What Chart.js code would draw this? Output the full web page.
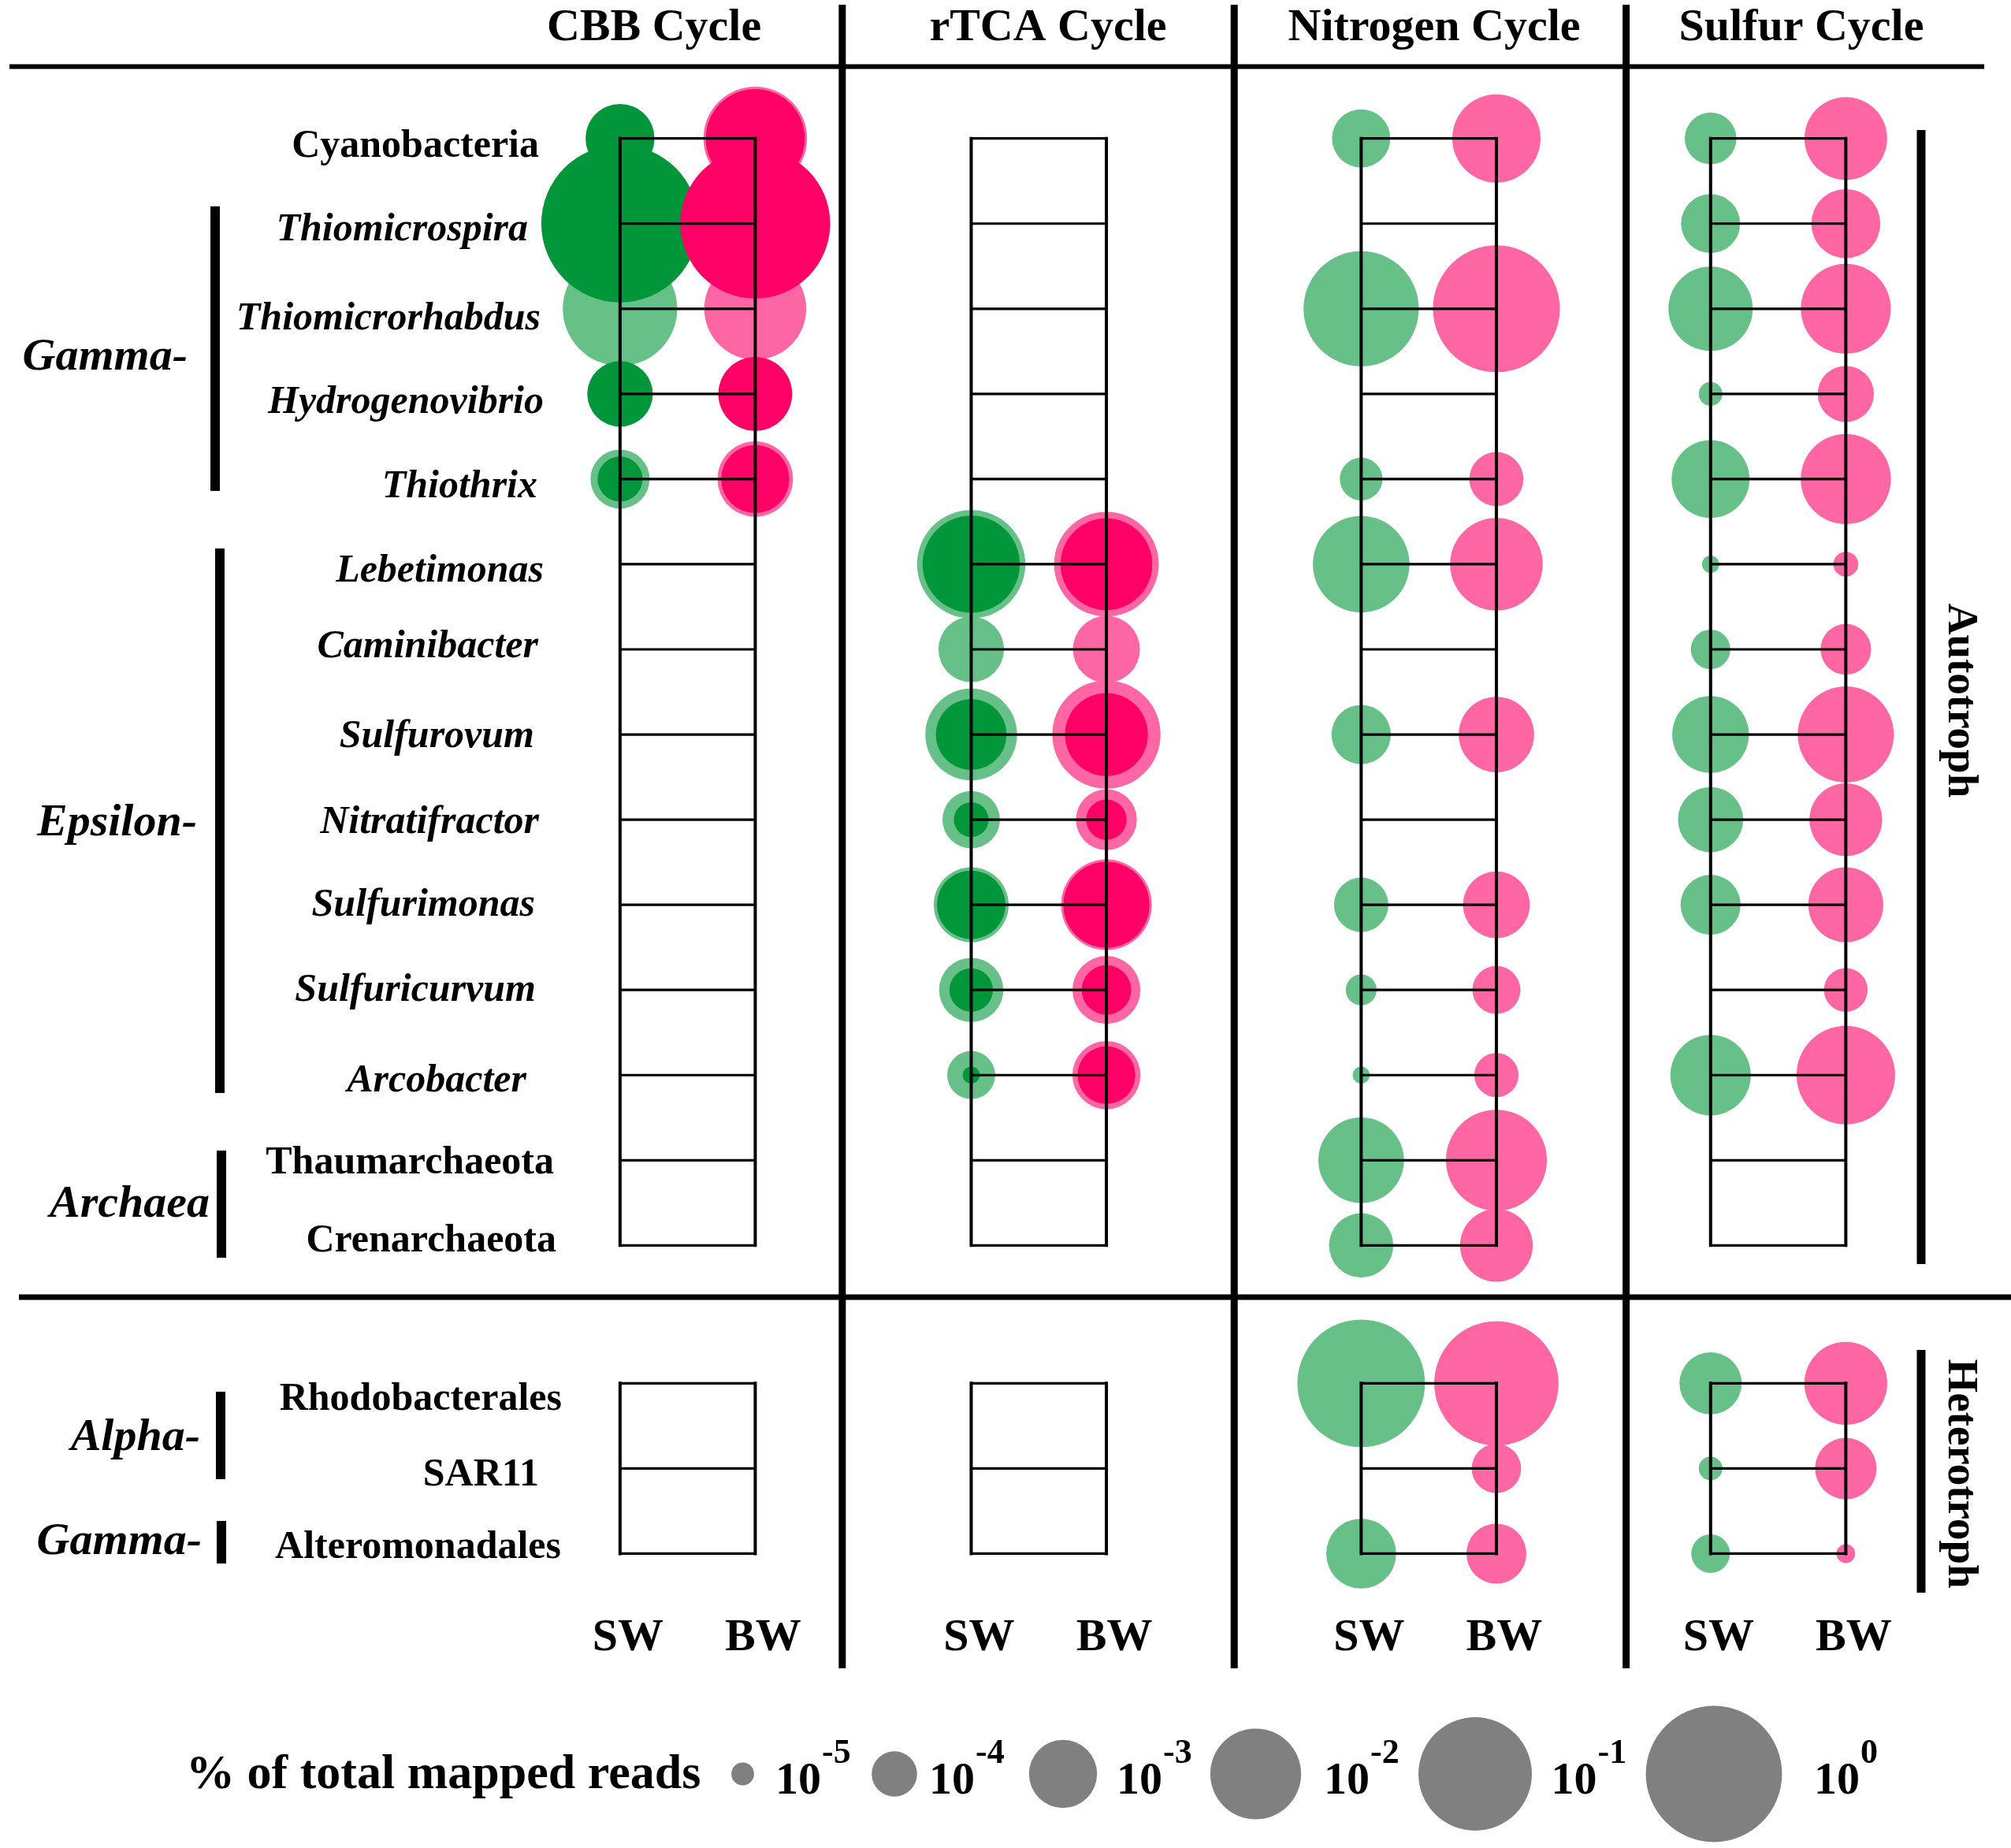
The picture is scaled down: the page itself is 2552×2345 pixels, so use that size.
<!DOCTYPE html>
<html>
<head>
<meta charset="utf-8">
<title>Carbon, nitrogen and sulfur genes</title>
<script src="https://cdn.jsdelivr.net/npm/chart.js@4.4.1/dist/chart.umd.min.js"></script>
<style>
  html, body { margin: 0; padding: 0; background: #fff; }
  #wrap { width: 2552px; height: 2345px; position: relative; }
</style>
</head>
<body>
<div id="wrap"><canvas id="myChart"></canvas></div>
<script>
// ---- data ----
const taxa = ['Cyanobacteria', 'Thiomicrospira', 'Thiomicrorhabdus', 'Hydrogenovibrio', 'Thiothrix',
  'Lebetimonas', 'Caminibacter', 'Sulfurovum', 'Nitratifractor', 'Sulfurimonas', 'Sulfuricurvum',
  'Arcobacter', 'Thaumarchaeota', 'Crenarchaeota', 'Rhodobacterales', 'SAR11', 'Alteromonadales'];
const italicTaxa = [false, true, true, true, true, true, true, true, true, true, true, true, false, false, false, false, false];
const cycles = ['CBB Cycle', 'rTCA Cycle', 'Nitrogen Cycle', 'Sulfur Cycle'];
const samples = ['SW', 'BW'];

// % of total mapped reads per taxon (null = not found)
// light = pale bubble, dark = solid bubble drawn on top
const cbbSwLight  = [null, null, 0.11, null, 4.0e-4, null, null, null, null, null, null, null, null, null, null, null, null];
const cbbSwDark   = [1.1e-3, 8.7, null, 7.7e-4, 9.6e-5, null, null, null, null, null, null, null, null, null, null, null, null];
const cbbBwLight  = [3.7e-2, null, 3.1e-2, null, 2.1e-3, null, null, null, null, null, null, null, null, null, null, null, null];
const cbbBwDark   = [2.3e-2, 4.0, null, 1.8e-3, 1.0e-3, null, null, null, null, null, null, null, null, null, null, null, null];

const rtcaSwLight = [null, null, null, null, null, 5.9e-2, 7.7e-4, 1.1e-2, 3.4e-4, 2.0e-3, 6.8e-4, 1.3e-4, null, null, null, null, null];
const rtcaSwDark  = [null, null, null, null, null, 1.9e-2, null, 1.3e-3, 3.4e-5, 1.05e-3, 8.2e-5, 5.6e-6, null, null, null, null, null];
const rtcaBwLight = [null, null, null, null, null, 4.1e-2, 9.0e-4, 5.9e-2, 4.8e-4, 1.0e-2, 9.8e-4, 1.0e-3, null, null, null, null, null];
const rtcaBwDark  = [null, null, null, null, null, 1.1e-2, null, 4.5e-3, 6.0e-5, 6.2e-3, 1.5e-4, 3.5e-4, null, null, null, null, null];

const nitSw = [3.7e-4, null, 0.12, null, 7.6e-5, 1.8e-2, null, 4.1e-4, null, 2.5e-4, 2.3e-5, 5.6e-6, 5.9e-3, 6.8e-4, 0.42, null, 1.2e-3];
const nitBw = [7.7e-3, null, 0.39, null, 2.4e-4, 1.2e-2, null, 2.1e-3, null, 8.8e-4, 1.3e-4, 8.9e-5, 2.8e-2, 1.6e-3, 0.30, 1.5e-4, 4.4e-4];

const sulSw = [1.9e-4, 4.0e-4, 5.2e-3, 1.1e-5, 2.7e-3, 5.7e-6, 5.5e-5, 2.4e-3, 7.5e-4, 4.4e-4, null, 3.5e-3, null, null, 5.5e-4, 1.1e-5, 5.0e-5];
const sulBw = [4.4e-3, 1.1e-3, 9.2e-3, 3.0e-4, 9.4e-3, 1.25e-5, 1.7e-4, 1.7e-2, 1.6e-3, 2.0e-3, 8.4e-5, 2.2e-2, null, null, 4.5e-3, 5.1e-4, 6.7e-6];

const legendValues = [1e-5, 1e-4, 1e-3, 1e-2, 1e-1, 1];
const legendExps = ['-5', '-4', '-3', '-2', '-1', '0'];

// ---- layout ----
const X_MIN = -1.149, X_MAX = 3.982;     // cycle sections are 1 unit wide, separators at 1,2,3
const Y_MIN = -1.626, Y_MAX = 20.077;    // one unit per taxon row
const swX = [0.433, 1.329, 2.324, 3.2155];
const BW_GAP = 0.345;
const HET_SHIFT = 0.62;                  // gap between autotroph and heterotroph block
const FONT = '"Liberation Serif", "Times New Roman", serif';

const GREEN = 'rgb(0,150,57)', GREEN_L = 'rgb(102,192,136)';
const PINK = 'rgb(255,0,102)', PINK_L = 'rgb(255,102,163)';

// label baselines (row units) and right edges (px)
const labelPos = [0.216, 1.196, 2.242, 3.224, 4.214, 5.20, 6.097, 7.152, 8.16, 9.126, 10.13, 11.189, 12.155, 13.07, 14.93, 15.82, 16.67];
const labelRight = [684, 670, 686, 690, 682, 690, 683, 678, 684, 679, 680, 668, 703, 706, 713, 684, 712];

const groups = [
  { name: 'Gamma-', top: 0.797, bottom: 4.139, label: 2.71, x: 273, right: 238 },
  { name: 'Epsilon-', top: 4.815, bottom: 11.21, label: 8.18, x: 279, right: 250 },
  { name: 'Archaea', top: 11.886, bottom: 13.145, label: 12.664, x: 281, right: 266 },
  { name: 'Alpha-', top: 14.718, bottom: 15.745, label: 15.40, x: 280, right: 254 },
  { name: 'Gamma-', top: 16.236, bottom: 16.736, label: 16.625, x: 281, right: 256 }
];

function rowPos(i) { return i < 14 ? i : i + HET_SHIFT; }
function rad(v) { return 14.4 * (Math.log10(v) + 6); }

function points(values, x) {
  const out = [];
  values.forEach(function (v, i) {
    if (v !== null) out.push({ x: x, y: rowPos(i), r: rad(v), v: v });
  });
  return out;
}

const swLight = [cbbSwLight, rtcaSwLight, nitSw, sulSw];
const bwLight = [cbbBwLight, rtcaBwLight, nitBw, sulBw];
const swDark = [cbbSwDark, rtcaSwDark, null, null];
const bwDark = [cbbBwDark, rtcaBwDark, null, null];

function collect(list, offset) {
  let all = [];
  list.forEach(function (vals, c) {
    if (vals) all = all.concat(points(vals, swX[c] + offset));
  });
  return all;
}

// first dataset is painted last (on top)
const datasets = [
  { label: 'BW dark', data: collect(bwDark, BW_GAP), backgroundColor: PINK },
  { label: 'SW dark', data: collect(swDark, 0), backgroundColor: GREEN },
  { label: 'BW light', data: collect(bwLight, BW_GAP), backgroundColor: PINK_L },
  { label: 'SW light', data: collect(swLight, 0), backgroundColor: GREEN_L }
].map(function (d) {
  return Object.assign(d, { borderWidth: 0, hoverBorderWidth: 0, clip: false });
});

// ---- frame, ladders and texts ----
const decor = {
  id: 'decor',
  afterDatasetsDraw(chart) {
    const ctx = chart.ctx;
    const xs = chart.scales.x, ys = chart.scales.y;
    const px = function (v) { return xs.getPixelForValue(v); };
    const py = function (v) { return ys.getPixelForValue(v); };
    ctx.save();
    ctx.strokeStyle = '#000';
    ctx.fillStyle = '#000';

    // ladders
    const blocks = [[0, 13], [14, 16]];
    for (let c = 0; c < cycles.length; c++) {
      const x1 = px(swX[c]), x2 = px(swX[c] + BW_GAP);
      blocks.forEach(function (b) {
        const yTop = py(rowPos(b[0])), yBot = py(rowPos(b[1]));
        ctx.lineWidth = 4;
        ctx.beginPath();
        ctx.moveTo(x1, yTop - 2); ctx.lineTo(x1, yBot + 2);
        ctx.moveTo(x2, yTop - 2); ctx.lineTo(x2, yBot + 2);
        ctx.stroke();
        ctx.lineWidth = 3.2;
        ctx.beginPath();
        for (let i = b[0]; i <= b[1]; i++) {
          ctx.moveTo(x1, py(rowPos(i))); ctx.lineTo(x2, py(rowPos(i)));
        }
        ctx.stroke();
      });
    }

    // frame lines
    ctx.lineWidth = 6;
    ctx.beginPath();
    ctx.moveTo(12, 84.5); ctx.lineTo(2518, 84.5);
    ctx.stroke();
    ctx.lineWidth = 7;
    ctx.beginPath();
    ctx.moveTo(24, 1646); ctx.lineTo(2552, 1646);
    ctx.stroke();
    ctx.lineWidth = 9;
    ctx.beginPath();
    for (let k = 1; k <= 3; k++) {
      ctx.moveTo(px(k), 6); ctx.lineTo(px(k), 2117);
    }
    ctx.stroke();

    // column titles
    const titleX = [830, 1330, 1820, 2286];
    ctx.font = 'bold 58px ' + FONT;
    ctx.textAlign = 'center';
    ctx.textBaseline = 'alphabetic';
    cycles.forEach(function (t, c) { ctx.fillText(t, titleX[c], 51); });

    // sample labels
    for (let c = 0; c < cycles.length; c++) {
      ctx.fillText(samples[0], px(swX[c]) + 10, 2094);
      ctx.fillText(samples[1], px(swX[c] + BW_GAP) + 10, 2094);
    }

    // taxon labels
    ctx.textAlign = 'right';
    taxa.forEach(function (t, i) {
      ctx.font = (italicTaxa[i] ? 'italic bold 50px ' : 'bold 50px ') + FONT;
      ctx.fillText(t, labelRight[i], py(labelPos[i]));
    });

    // group brackets
    groups.forEach(function (g) {
      ctx.fillRect(g.x - 6, py(g.top), 12, py(g.bottom) - py(g.top));
      ctx.font = 'italic bold 58px ' + FONT;
      ctx.fillText(g.name, g.right, py(g.label));
    });

    // trophic side labels
    ctx.fillRect(2432.5, 165, 11, 1604 - 165);
    ctx.fillRect(2432.5, 1713, 11, 2021 - 1713);
    ctx.font = 'bold 55px ' + FONT;
    ctx.textAlign = 'center';
    [['Autotroph', 889], ['Heterotroph', 1870]].forEach(function (s) {
      ctx.save();
      ctx.translate(2473, s[1]);
      ctx.rotate(Math.PI / 2);
      ctx.fillText(s[0], 0, 0);
      ctx.restore();
    });

    // size legend
    ctx.textAlign = 'left';
    ctx.font = 'bold 62px ' + FONT;
    ctx.fillText('% of total mapped reads', 236, 2269);
    const legendCx = [942.5, 1135, 1349, 1593.5, 1872, 2175];
    const legendTx = [984, 1179, 1417, 1680, 1968.6, 2302];
    ctx.fillStyle = 'rgb(128,128,128)';
    legendValues.forEach(function (v, k) {
      ctx.beginPath();
      ctx.arc(legendCx[k], 2251, rad(v), 0, Math.PI * 2);
      ctx.fill();
    });
    ctx.fillStyle = '#000';
    legendExps.forEach(function (e, k) {
      ctx.font = 'bold 58px ' + FONT;
      ctx.fillText('10', legendTx[k], 2276);
      const w = ctx.measureText('10').width;
      ctx.font = 'bold 44px ' + FONT;
      ctx.fillText(e, legendTx[k] + w + 1, 2237);
    });
    ctx.restore();
  }
};

const myChart = new Chart(document.getElementById('myChart'), {
  type: 'bubble',
  data: { datasets: datasets },
  options: {
    responsive: true,
    maintainAspectRatio: false,
    animation: false,
    events: [],
    layout: { padding: 0, autoPadding: false },
    plugins: { legend: { display: false }, tooltip: { enabled: false } },
    scales: {
      x: { type: 'linear', min: X_MIN, max: X_MAX, display: false },
      y: { type: 'linear', min: Y_MIN, max: Y_MAX, reverse: true, display: false }
    }
  },
  plugins: [decor]
});
</script>
</body>
</html>
